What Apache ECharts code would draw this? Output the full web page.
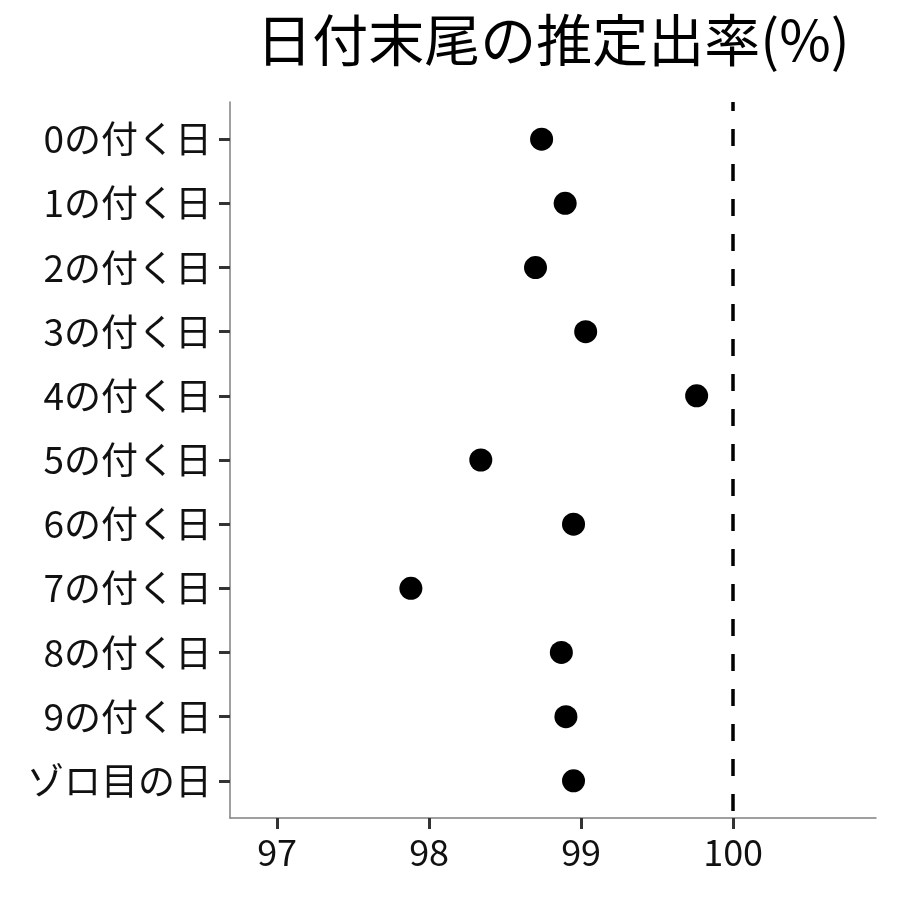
<!DOCTYPE html>
<html><head><meta charset="utf-8">
<script src="https://cdn.jsdelivr.net/npm/echarts@6/dist/echarts.min.js"></script>
<style>html,body{margin:0;padding:0;background:#fff}#c{width:900px;height:900px}</style>
</head><body><div id="c"></div>
<script>
const categories = ['0の付く日','1の付く日','2の付く日','3の付く日','4の付く日','5の付く日','6の付く日','7の付く日','8の付く日','9の付く日','ゾロ目の日'];
const rates = [98.74, 98.895, 98.70, 99.03, 99.76, 98.34, 98.95, 97.88, 98.87, 98.90, 98.95];
const xTicks = [97, 98, 99, 100];
const refLine = 100;
const title = '日付末尾の推定出率(%)';

const font = '"Noto Sans CJK JP", "Noto Sans", sans-serif';
const chart = echarts.init(document.getElementById('c'), null, {renderer: 'canvas'});
const idx = categories.map((_, i) => i);
chart.setOption({
  animation: false,
  title: {text: title, left: 548, top: 7, textAlign: 'center',
    textStyle: {fontFamily: font, fontSize: 56, fontWeight: 'normal', color: '#000'}},
  grid: {left: 230, right: 24, top: 102, bottom: 82},
  xAxis: {type: 'value', min: 96.69, max: 100.94,
    axisLine: {show: true, onZero: false, lineStyle: {color: '#808080', width: 1.5}},
    axisTick: {show: true, customValues: xTicks, length: 11, lineStyle: {color: '#333', width: 3}},
    axisLabel: {customValues: xTicks, fontFamily: font, fontSize: 36, color: '#111', margin: 16},
    splitLine: {show: false}},
  yAxis: {type: 'value', inverse: true, min: -0.58, max: 10.58,
    axisLine: {show: true, onZero: false, lineStyle: {color: '#808080', width: 1.5}},
    axisTick: {show: true, customValues: idx, length: 11, lineStyle: {color: '#333', width: 3}},
    axisLabel: {customValues: idx, formatter: v => categories[Math.round(v)], fontFamily: font, fontSize: 37, color: '#111', margin: 18},
    splitLine: {show: false}},
  series: [{
    type: 'scatter', symbolSize: 23, itemStyle: {color: '#000', opacity: 1},
    data: rates.map((v, i) => [v, i]),
    markLine: {silent: true, symbol: 'none', label: {show: false},
      lineStyle: {color: '#000', type: [17, 18], dashOffset: 8, width: 3.5},
      data: [{xAxis: refLine}]}
  }]
});
</script></body></html>
